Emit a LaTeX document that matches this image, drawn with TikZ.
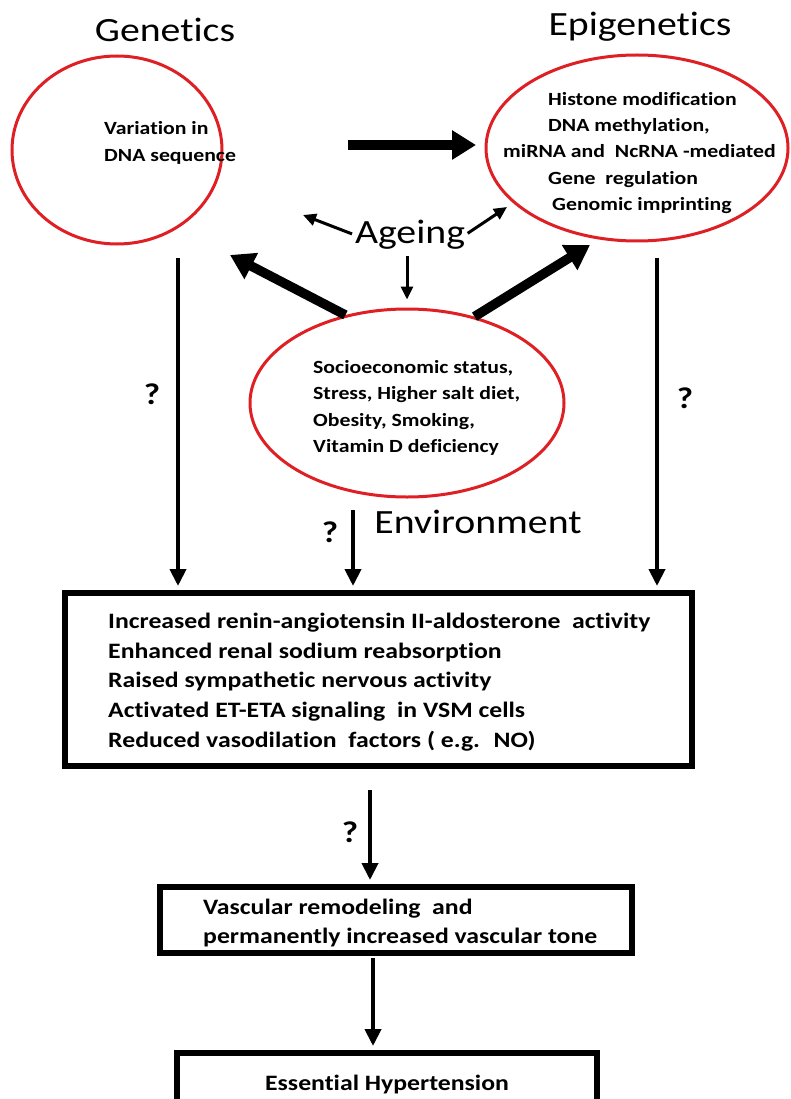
\documentclass[tikz,border=0pt]{standalone}
\usepackage{fontspec}
\setmainfont{Carlito}[FakeStretch=1.17, Ligatures=CommonOff]
\usetikzlibrary{arrows.meta,shapes.geometric}
\definecolor{ringred}{RGB}{222,32,36}
\tikzset{
  ring/.style={ellipse, draw=ringred, line width=3pt, inner sep=0pt},
  blackbox/.style={draw, line width=6pt, inner sep=0pt},
  bigtitle/.style={font=\fontsize{34}{40}\selectfont, inner sep=0pt},
  smalltext/.style={font=\bfseries\fontsize{18.6}{26.3}\selectfont, align=left, inner sep=0pt},
  boxtext/.style={font=\bfseries\fontsize{22}{29.7}\selectfont, align=left, inner sep=0pt},
  qmark/.style={font=\bfseries\fontsize{30}{32}\selectfont, inner sep=0pt},
  fatarrow/.style={line width=9.5pt, -{Triangle[length=24pt,width=28pt]}},
  leanarrow/.style={line width=4pt, -{Triangle[length=17pt,width=16pt]}},
  thinarrow/.style={line width=3pt, -{Triangle[length=13pt,width=12pt]}},
}
\begin{document}
\begin{tikzpicture}[x=1pt,y=-1pt]
        \useasboundingbox (0,0) rectangle (790,1099);
        % Titles
        \node[bigtitle] (gentitle) at (165,30) {Genetics};
        \node[bigtitle] (epititle) at (640,27) {Epigenetics};
        \node[bigtitle] (ageing) at (410,235) {Ageing};
        \node[bigtitle] (envtitle) at (478,522) {Environment};
        % Ellipses
        \node[ring, minimum width=210, minimum height=188] (gen) at (117,150) {};
        \node[ring, minimum width=302, minimum height=186] (epi) at (637,148) {};
        \node[ring, minimum width=314, minimum height=188] (env) at (407,403) {};
        \node[smalltext, anchor=west] (gentext) at (104,143) {Variation in\\DNA sequence};
        \node[smalltext, anchor=west] (epitext) at (548,153) {Histone modification\\DNA methylation,\\\hspace*{-45pt}miRNA and~ NcRNA -mediated\\Gene~ regulation\\\hspace*{4pt}Genomic imprinting};
        \node[smalltext, anchor=west] (envtext) at (313,408) {Socioeconomic status,\\Stress, Higher salt diet,\\Obesity, Smoking,\\Vitamin D deficiency};
        % Boxes
        \node[blackbox, minimum width=627, minimum height=173] (raas) at (378.5,679.5) {};
        \node[boxtext, anchor=west] (raastext) at (108,682) {Increased renin-angiotensin II-aldosterone~ activity\\Enhanced renal sodium reabsorption\\Raised sympathetic nervous activity\\Activated ET-ETA signaling~ in VSM cells\\Reduced vasodilation~ factors ( e.g.~ NO)};
        \node[blackbox, minimum width=472, minimum height=66] (vasc) at (396,920) {};
        \node[boxtext, anchor=west] (vasctext) at (203,923) {Vascular remodeling~ and\\permanently increased vascular tone};
        \node[blackbox, minimum width=420, minimum height=62, font=\bfseries\fontsize{22}{24}\selectfont] (hyp) at (387,1084) {Essential Hypertension};
        % Question marks
        \node[qmark] (q1) at (152,394) {?};
        \node[qmark] (q2) at (685,398) {?};
        \node[qmark] (q3) at (330,532) {?};
        \node[qmark] (q4) at (350,832) {?};
        % Free ends
        \coordinate (gstart) at (348,145);
        \coordinate (etipa) at (476,145);
        \coordinate (gtip) at (230,255);
        \coordinate (etipb) at (590,245);
        \coordinate (agetipg) at (303,215);
        \coordinate (agetipe) at (507,207);
        \coordinate (gdrop) at (178,258);
        \coordinate (edrop) at (657,258);
        \coordinate (envdrop) at (353,510);
        \coordinate (rdrop) at (370,790);
        \coordinate (vdrop) at (373,958);
        % Arrows
        \draw[fatarrow] (gstart) -- (etipa);
        \draw[fatarrow] (env.125) -- (gtip);
        \draw[fatarrow] (env.52) -- (etipb);
        \draw[thinarrow, shorten <=3pt] (ageing.west) -- (agetipg);
        \draw[thinarrow, shorten <=3pt] (ageing.east) -- (agetipe);
        \draw[thinarrow, shorten <=6pt, shorten >=8pt] (ageing.south -| env.north) -- (env.north);
        \foreach \c in {gdrop,edrop,envdrop} {
            \draw[leanarrow, shorten >=4pt] (\c) -- (\c |- raas.north);
        }
        \draw[leanarrow, shorten >=4pt] (rdrop) -- (rdrop |- vasc.north);
        \draw[leanarrow, shorten >=4pt] (vdrop) -- (vdrop |- hyp.north);
\end{tikzpicture}
\end{document}
